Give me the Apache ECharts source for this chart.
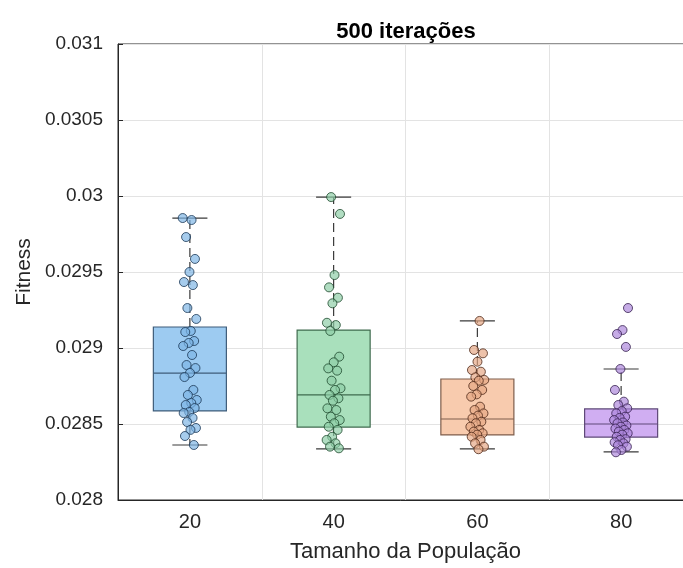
<!DOCTYPE html>
<html>
<head>
<meta charset="utf-8">
<script src="https://cdn.jsdelivr.net/npm/echarts@6/dist/echarts.min.js"></script>
<style>
  html, body { margin: 0; padding: 0; background: #fff; }
  #chart { width: 683px; height: 568px; }
</style>
</head>
<body>
<div id="chart"></div>
<script>
// Population sizes on the x axis
const categories = ['20', '40', '60', '80'];

// Box statistics per population size
const boxMin    = [0.028362, 0.028336, 0.028336, 0.028316];
const boxQ1     = [0.028586, 0.028480, 0.028428, 0.028414];
const boxMedian = [0.028835, 0.028691, 0.028533, 0.028500];
const boxQ3     = [0.029138, 0.029118, 0.028796, 0.028599];
const boxMax    = [0.029855, 0.029993, 0.029178, 0.028862];

// Fitness of every run, per population size
const runs20 = [0.029855, 0.029842, 0.029730, 0.029586, 0.029500, 0.029434, 0.029414,
  0.029263, 0.029191, 0.029112, 0.029105, 0.029046, 0.029033, 0.029013, 0.028954,
  0.028888, 0.028868, 0.028836, 0.028809, 0.028724, 0.028691, 0.028658, 0.028638,
  0.028625, 0.028605, 0.028579, 0.028572, 0.028540, 0.028513, 0.028474, 0.028461,
  0.028421, 0.028362];
const runs40 = [0.029993, 0.029882, 0.029480, 0.029399, 0.029331, 0.029294, 0.029166,
  0.029151, 0.029112, 0.028943, 0.028906, 0.028866, 0.028851, 0.028785, 0.028735,
  0.028724, 0.028691, 0.028669, 0.028653, 0.028603, 0.028592, 0.028548, 0.028526,
  0.028505, 0.028482, 0.028461, 0.028416, 0.028395, 0.028373, 0.028351, 0.028340];
const runs60 = [0.029178, 0.028987, 0.028965, 0.028910, 0.028855, 0.028844, 0.028807,
  0.028790, 0.028785, 0.028750, 0.028724, 0.028695, 0.028680, 0.028614, 0.028592,
  0.028570, 0.028555, 0.028538, 0.028515, 0.028505, 0.028482, 0.028461, 0.028450,
  0.028439, 0.028430, 0.028416, 0.028395, 0.028373, 0.028351, 0.028334];
const runs80 = [0.029263, 0.029118, 0.029092, 0.029007, 0.028862, 0.028724, 0.028647,
  0.028625, 0.028603, 0.028585, 0.028570, 0.028548, 0.028540, 0.028526, 0.028510,
  0.028505, 0.028490, 0.028482, 0.028470, 0.028461, 0.028450, 0.028439, 0.028430,
  0.028416, 0.028400, 0.028395, 0.028380, 0.028373, 0.028360, 0.028351, 0.028329,
  0.028314];

// Y axis range and tick step
const yMin = 0.028, yMax = 0.031, yStep = 0.0005;

// Colours: box face, box edge, marker face, marker edge
const boxFace   = ['#9dcbf1', '#a9e0bc', '#f8cbae', '#d0aef2'];
const boxEdge   = ['#3f5d7a', '#3f6b4e', '#7e5e4c', '#5e4878'];
const dotFace   = ['rgba(125,180,228,0.85)', 'rgba(140,205,165,0.85)', 'rgba(228,165,130,0.85)', 'rgba(172,134,218,0.85)'];
const dotEdge   = ['#1b3856', '#1f4a2e', '#4e2818', '#36204f'];

const allRuns = [runs20, runs40, runs60, runs80];

const font = '"Liberation Sans", Arial, Helvetica, sans-serif';
const ink = '#262626';

const boxData = categories.map((c, i) => [i, boxMin[i], boxQ1[i], boxMedian[i], boxQ3[i], boxMax[i]]);

function renderBox(params, api) {
  const i = api.value(0);
  const band = api.size([1, 0])[0];
  const half = band * 0.254;
  const capHalf = band * 0.122;
  const pMin = api.coord([i, api.value(1)]);
  const pQ1 = api.coord([i, api.value(2)]);
  const pMed = api.coord([i, api.value(3)]);
  const pQ3 = api.coord([i, api.value(4)]);
  const pMax = api.coord([i, api.value(5)]);
  const cx = pMed[0];
  const lineStyle = { stroke: '#3a3a3a', lineWidth: 1.2 };
  return {
    type: 'group',
    children: [
      { type: 'line', shape: { x1: cx, y1: pQ3[1], x2: cx, y2: pMax[1] },
        style: Object.assign({ lineDash: [9, 5] }, lineStyle) },
      { type: 'line', shape: { x1: cx, y1: pQ1[1], x2: cx, y2: pMin[1] },
        style: Object.assign({ lineDash: [9, 5] }, lineStyle) },
      { type: 'line', shape: { x1: cx - capHalf, y1: pMax[1], x2: cx + capHalf, y2: pMax[1] }, style: lineStyle },
      { type: 'line', shape: { x1: cx - capHalf, y1: pMin[1], x2: cx + capHalf, y2: pMin[1] }, style: lineStyle },
      { type: 'rect', shape: { x: cx - half, y: pQ3[1], width: half * 2, height: pQ1[1] - pQ3[1] },
        style: { fill: boxFace[i], stroke: boxEdge[i], lineWidth: 1.2 } },
      { type: 'line', shape: { x1: cx - half, y1: pMed[1], x2: cx + half, y2: pMed[1] },
        style: { stroke: boxEdge[i], lineWidth: 1.2 } }
    ]
  };
}

// Small horizontal spread so overlapping runs stay visible
function spread(k) {
  return (((k * 0.6180339887) % 1) - 0.5) * 0.10;
}

const scatterSeries = allRuns.map((runs, i) => ({
  type: 'scatter',
  xAxisIndex: 1,
  symbol: 'circle',
  symbolSize: 9,
  z: 5,
  itemStyle: { color: dotFace[i], borderColor: dotEdge[i], borderWidth: 1 },
  data: runs.map((v, k) => [i + spread(k + i * 7), v])
}));

const chart = echarts.init(document.getElementById('chart'), null, { renderer: 'canvas' });
chart.setOption({
  animation: false,
  backgroundColor: '#ffffff',
  title: {
    text: '500 iterações',
    left: 401,
    textAlign: 'center',
    top: 16,
    textStyle: { fontFamily: font, fontWeight: 'bold', fontSize: 22, color: '#000' }
  },
  grid: {
    left: 118, top: 44, width: 575, height: 456,
    outerBoundsMode: 'none',
    containLabel: false,
    show: true, borderColor: ink, borderWidth: 1, backgroundColor: 'transparent'
  },
  xAxis: [
    {
      type: 'category',
      data: categories,
      name: 'Tamanho da População',
      nameLocation: 'middle',
      nameGap: 41,
      nameTextStyle: { fontFamily: font, fontSize: 22, color: ink },
      axisLine: { lineStyle: { color: ink } },
      axisTick: { inside: true, alignWithLabel: true, length: 5, lineStyle: { color: ink } },
      axisLabel: { fontFamily: font, fontSize: 20, color: ink, margin: 12 },
      splitLine: { show: true, lineStyle: { color: '#e3e3e3' } }
    },
    {
      type: 'value',
      min: -0.5,
      max: 3.5,
      show: false
    },
    {
      type: 'category',
      data: categories,
      position: 'top',
      axisLine: { show: false },
      axisTick: { inside: true, alignWithLabel: true, length: 5, lineStyle: { color: ink } },
      axisLabel: { show: false },
      splitLine: { show: false }
    }
  ],
  yAxis: {
    type: 'value',
    min: yMin,
    max: yMax,
    interval: yStep,
    name: 'Fitness',
    nameLocation: 'middle',
    nameGap: 83,
    nameMoveOverlap: false,
    nameTextStyle: { fontFamily: font, fontSize: 21, color: ink },
    axisLine: { show: true, onZero: false, lineStyle: { color: ink } },
    axisTick: { show: true, inside: true, length: 5, lineStyle: { color: ink } },
    axisLabel: {
      fontFamily: font, fontSize: 19, color: ink, margin: 15,
      formatter: v => String(+v.toFixed(5))
    },
    splitLine: { show: true, lineStyle: { color: '#e3e3e3' } }
  },
  series: [
    {
      type: 'custom',
      xAxisIndex: 0,
      renderItem: renderBox,
      encode: { x: 0, y: [1, 2, 3, 4, 5] },
      data: boxData,
      z: 3
    }
  ].concat(scatterSeries)
});
</script>
</body>
</html>
